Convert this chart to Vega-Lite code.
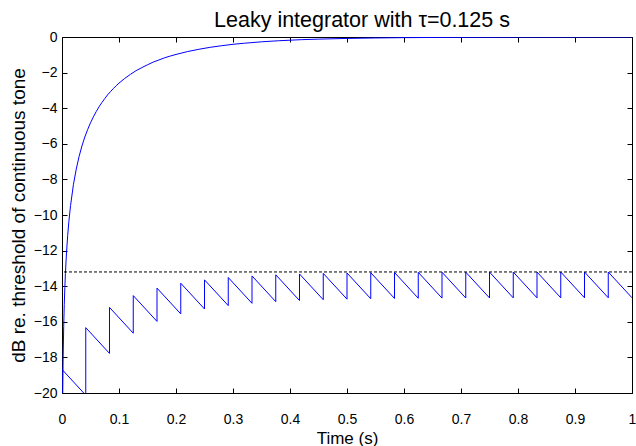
{
  "$schema": "https://vega.github.io/schema/vega-lite/v6.json",
  "autosize": {"type": "none"},
  "width": 570,
  "height": 356,
  "padding": {"left": 62, "top": 37, "right": 4, "bottom": 53},
  "background": "white",
  "title": {"text": "Leaky integrator with τ=0.125 s", "font": "Liberation Sans", "fontSize": 21.5, "fontWeight": "normal", "color": "black", "anchor": "middle", "baseline": "alphabetic", "offset": 9, "frame": "group", "dy": 27, "dx": 15},
  "config": {
    "view": {"stroke": "black", "strokeWidth": 1},
    "axis": {"domain": false, "grid": false, "tickColor": "black", "tickSize": -5, "labelColor": "black", "labelFont": "Liberation Sans", "labelFontSize": 14, "labelFlush": false, "labelOverlap": false, "titleFont": "Liberation Sans", "titleColor": "black", "titleFontWeight": "normal"}
  },
  "datasets": {
    "tone": [
      {"t": 0.001, "db": -20.99}, {"t": 0.002, "db": -17.99}, {"t": 0.003, "db": -16.25}, {"t": 0.004, "db": -15.02},
      {"t": 0.005, "db": -14.07}, {"t": 0.006, "db": -13.29}, {"t": 0.007, "db": -12.64}, {"t": 0.008, "db": -12.08},
      {"t": 0.01, "db": -11.14}, {"t": 0.012, "db": -10.38}, {"t": 0.015, "db": -9.47}, {"t": 0.02, "db": -8.3},
      {"t": 0.025, "db": -7.42}, {"t": 0.03, "db": -6.71}, {"t": 0.035, "db": -6.12}, {"t": 0.04, "db": -5.62},
      {"t": 0.045, "db": -5.2}, {"t": 0.05, "db": -4.82}, {"t": 0.055, "db": -4.49}, {"t": 0.06, "db": -4.19},
      {"t": 0.065, "db": -3.92}, {"t": 0.07, "db": -3.68}, {"t": 0.075, "db": -3.46}, {"t": 0.08, "db": -3.25},
      {"t": 0.085, "db": -3.07}, {"t": 0.09, "db": -2.9}, {"t": 0.095, "db": -2.74}, {"t": 0.1, "db": -2.59},
      {"t": 0.11, "db": -2.33}, {"t": 0.12, "db": -2.1}, {"t": 0.13, "db": -1.89}, {"t": 0.14, "db": -1.72},
      {"t": 0.15, "db": -1.56}, {"t": 0.16, "db": -1.41}, {"t": 0.17, "db": -1.29}, {"t": 0.18, "db": -1.17},
      {"t": 0.19, "db": -1.07}, {"t": 0.2, "db": -0.98}, {"t": 0.22, "db": -0.82}, {"t": 0.24, "db": -0.69},
      {"t": 0.26, "db": -0.58}, {"t": 0.28, "db": -0.49}, {"t": 0.3, "db": -0.41}, {"t": 0.32, "db": -0.35},
      {"t": 0.35, "db": -0.27}, {"t": 0.38, "db": -0.21}, {"t": 0.42, "db": -0.15}, {"t": 0.45, "db": -0.12},
      {"t": 0.5, "db": -0.08}, {"t": 0.55, "db": -0.054}, {"t": 0.6, "db": -0.036}, {"t": 0.7, "db": -0.016},
      {"t": 0.8, "db": -0.007}, {"t": 0.9, "db": -0.003}, {"t": 1.0, "db": -0.001}
    ],
    "pulses": [
      {"i": 0, "t": 0, "db": -21},
      {"i": 1, "t": 0, "db": -18.675},
      {"i": 2, "t": 0.041667, "db": -20.123}, {"i": 3, "t": 0.041667, "db": -16.328},
      {"i": 4, "t": 0.083333, "db": -17.776}, {"i": 5, "t": 0.083333, "db": -15.192},
      {"i": 6, "t": 0.125, "db": -16.64}, {"i": 7, "t": 0.125, "db": -14.529},
      {"i": 8, "t": 0.166667, "db": -15.977}, {"i": 9, "t": 0.166667, "db": -14.109},
      {"i": 10, "t": 0.208333, "db": -15.557}, {"i": 11, "t": 0.208333, "db": -13.832},
      {"i": 12, "t": 0.25, "db": -15.28}, {"i": 13, "t": 0.25, "db": -13.643},
      {"i": 14, "t": 0.291667, "db": -15.091}, {"i": 15, "t": 0.291667, "db": -13.513},
      {"i": 16, "t": 0.333333, "db": -14.961}, {"i": 17, "t": 0.333333, "db": -13.422},
      {"i": 18, "t": 0.375, "db": -14.87}, {"i": 19, "t": 0.375, "db": -13.358},
      {"i": 20, "t": 0.416667, "db": -14.806}, {"i": 21, "t": 0.416667, "db": -13.312},
      {"i": 22, "t": 0.458333, "db": -14.76}, {"i": 23, "t": 0.458333, "db": -13.28},
      {"i": 24, "t": 0.5, "db": -14.728}, {"i": 25, "t": 0.5, "db": -13.257},
      {"i": 26, "t": 0.541667, "db": -14.705}, {"i": 27, "t": 0.541667, "db": -13.241},
      {"i": 28, "t": 0.583333, "db": -14.689}, {"i": 29, "t": 0.583333, "db": -13.229},
      {"i": 30, "t": 0.625, "db": -14.677}, {"i": 31, "t": 0.625, "db": -13.221},
      {"i": 32, "t": 0.666667, "db": -14.669}, {"i": 33, "t": 0.666667, "db": -13.215},
      {"i": 34, "t": 0.708333, "db": -14.663}, {"i": 35, "t": 0.708333, "db": -13.211},
      {"i": 36, "t": 0.75, "db": -14.659}, {"i": 37, "t": 0.75, "db": -13.208},
      {"i": 38, "t": 0.791667, "db": -14.656}, {"i": 39, "t": 0.791667, "db": -13.206},
      {"i": 40, "t": 0.833333, "db": -14.654}, {"i": 41, "t": 0.833333, "db": -13.204},
      {"i": 42, "t": 0.875, "db": -14.652}, {"i": 43, "t": 0.875, "db": -13.203},
      {"i": 44, "t": 0.916667, "db": -14.651}, {"i": 45, "t": 0.916667, "db": -13.202},
      {"i": 46, "t": 0.958333, "db": -14.65}, {"i": 47, "t": 0.958333, "db": -13.202},
      {"i": 48, "t": 1.0, "db": -14.65}
    ],
    "asymptote": [{"db": -13.2}]
  },
  "resolve": {"axis": {"x": "independent", "y": "independent"}},
  "layer": [
    {
      "data": {"name": "tone"},
      "mark": {"type": "line", "color": "#0000ff", "strokeWidth": 1, "clip": true},
      "encoding": {
        "x": {"field": "t", "type": "quantitative", "scale": {"domain": [0, 1], "nice": false, "zero": false},
              "axis": {"orient": "bottom", "values": [0, 0.1, 0.2, 0.3, 0.4, 0.5, 0.6, 0.7, 0.8, 0.9, 1], "format": "~g", "labelPadding": 24, "title": "Time (s)", "titleFontSize": 17, "titleBaseline": "alphabetic", "titleY": 50}},
        "y": {"field": "db", "type": "quantitative", "scale": {"domain": [-20, 0], "nice": false, "zero": false},
              "axis": {"orient": "left", "values": [-20, -18, -16, -14, -12, -10, -8, -6, -4, -2, 0], "labelPadding": 10, "title": "dB re. threshold of continuous tone", "titleFontSize": 19, "titleBaseline": "alphabetic", "titleX": -38}}
      }
    },
    {
      "data": {"name": "pulses"},
      "mark": {"type": "line", "color": "#0000ff", "strokeWidth": 1, "clip": true},
      "encoding": {
        "x": {"field": "t", "type": "quantitative", "axis": {"orient": "top", "values": [0, 0.1, 0.2, 0.3, 0.4, 0.5, 0.6, 0.7, 0.8, 0.9, 1], "labels": false, "title": null}},
        "y": {"field": "db", "type": "quantitative", "axis": {"orient": "right", "values": [-20, -18, -16, -14, -12, -10, -8, -6, -4, -2, 0], "labels": false, "title": null}},
        "order": {"field": "i", "type": "quantitative"}
      }
    },
    {
      "data": {"name": "asymptote"},
      "mark": {"type": "rule", "color": "black", "strokeWidth": 1, "strokeDash": [3, 2]},
      "encoding": {"y": {"field": "db", "type": "quantitative", "axis": null}}
    }
  ]
}
